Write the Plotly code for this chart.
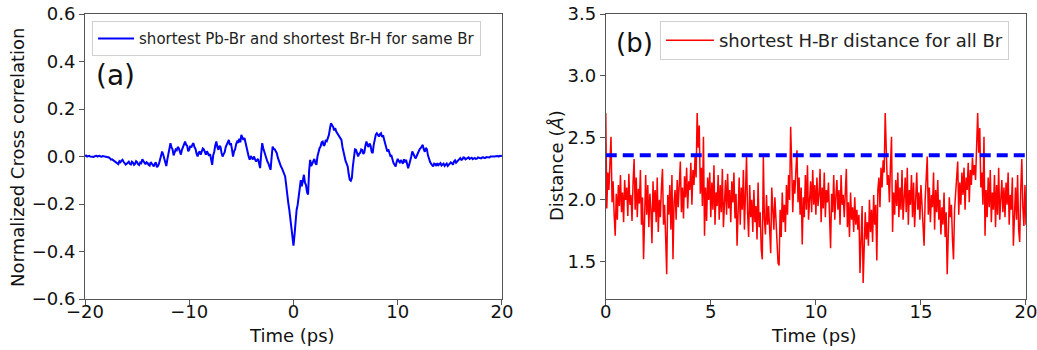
import plotly.graph_objects as go
from plotly.subplots import make_subplots

# ---------------- data ----------------
# (a) cross correlation, time grid -20..20 ps step 0.1
corr_t = [round(-20 + 0.1 * i, 1) for i in range(401)]
corr_vals = [
    0.002, 0.004, 0.000, 0.001, 0.003, 0.000, 0.001, -0.001, -0.002, 0.001, 0.002, 0.003, 0.000, 0.002, 0.003, 0.000, -0.001, 0.002, 0.001, -0.001,
    -0.002, -0.001, -0.005, -0.004, -0.008, -0.013, -0.012, -0.016, -0.018, -0.024, -0.025, -0.029, -0.032, -0.020, -0.024, -0.018, -0.014, -0.022, -0.028, -0.034,
    -0.030, -0.024, -0.022, -0.031, -0.034, -0.022, -0.026, -0.035, -0.031, -0.020, -0.024, -0.033, -0.036, -0.025, -0.028, -0.012, -0.019, -0.030, -0.033, -0.024,
    -0.027, -0.035, -0.038, -0.024, -0.030, -0.040, -0.042, -0.030, -0.025, -0.045, -0.040, -0.030, -0.014, 0.005, 0.021, 0.008, -0.005, -0.022, -0.040, -0.012,
    0.010, 0.040, 0.056, 0.038, 0.030, 0.005, 0.014, 0.030, 0.026, 0.040, 0.035, 0.015, 0.008, 0.028, 0.040, 0.052, 0.063, 0.050, 0.045, 0.022,
    0.028, 0.045, 0.038, 0.050, 0.056, 0.040, 0.032, 0.012, 0.000, 0.015, 0.022, 0.008, 0.020, 0.034, 0.030, 0.018, 0.008, 0.022, 0.014, 0.003,
    0.010, -0.015, -0.035, 0.005, 0.020, 0.048, 0.063, 0.040, 0.028, 0.045, 0.040, 0.015, 0.000, 0.010, 0.018, 0.040, 0.052, 0.064, 0.070, 0.048,
    0.056, 0.030, 0.000, 0.022, 0.030, 0.052, 0.063, 0.058, 0.075, 0.060, 0.091, 0.080, 0.070, 0.078, 0.056, 0.035, 0.020, 0.000, -0.014, 0.002,
    -0.005, -0.012, 0.000, -0.008, -0.021, -0.015, -0.010, -0.030, -0.049, 0.010, 0.056, 0.035, 0.020, 0.000, -0.014, -0.022, -0.030, -0.045, -0.056, -0.005,
    0.042, 0.032, 0.030, 0.022, 0.014, -0.005, -0.020, -0.035, -0.042, -0.050, -0.060, -0.075, -0.084, -0.120, -0.168, -0.195, -0.225, -0.262, -0.300, -0.345,
    -0.375, -0.330, -0.253, -0.225, -0.204, -0.160, -0.120, -0.100, -0.126, -0.090, -0.077, -0.110, -0.120, -0.150, -0.160, -0.060, -0.014, -0.040, -0.030, -0.015,
    -0.010, -0.028, -0.035, 0.000, 0.020, 0.035, 0.042, 0.060, 0.063, 0.045, 0.050, 0.070, 0.065, 0.080, 0.091, 0.118, 0.140, 0.132, 0.125, 0.110,
    0.120, 0.105, 0.098, 0.092, 0.085, 0.078, 0.070, 0.040, 0.014, 0.000, -0.020, -0.030, -0.042, -0.075, -0.098, -0.102, -0.091, -0.040, 0.010, 0.030,
    0.028, 0.010, 0.000, 0.012, 0.015, 0.030, 0.028, 0.010, 0.018, 0.045, 0.063, 0.048, 0.040, 0.055, 0.045, 0.020, 0.014, 0.050, 0.080, 0.092,
    0.098, 0.088, 0.084, 0.094, 0.098, 0.082, 0.090, 0.070, 0.056, 0.035, 0.021, 0.030, 0.010, 0.002, 0.003, -0.015, -0.028, -0.035, -0.042, -0.022,
    -0.010, -0.020, -0.025, -0.015, -0.021, -0.030, -0.012, -0.025, -0.014, -0.035, -0.049, -0.035, -0.020, 0.000, 0.021, 0.010, 0.005, -0.008, 0.000, 0.012,
    0.020, 0.030, 0.035, 0.045, 0.049, 0.030, 0.020, 0.036, 0.030, 0.005, -0.014, -0.022, -0.030, -0.036, -0.042, -0.030, -0.032, -0.040, -0.028, -0.036,
    -0.033, -0.028, -0.038, -0.034, -0.030, -0.040, -0.035, -0.030, -0.040, -0.036, -0.032, -0.025, -0.028, -0.034, -0.021, -0.016, -0.026, -0.020, -0.018, -0.010,
    -0.007, -0.014, -0.012, -0.004, -0.005, -0.012, -0.010, -0.006, -0.004, -0.010, -0.008, -0.005, -0.011, -0.008, -0.006, -0.010, -0.009, -0.004, -0.005, -0.007,
    -0.008, -0.004, -0.003, -0.006, -0.006, -0.002, -0.002, -0.005, -0.004, 0.000, 0.000, -0.002, -0.003, 0.000, 0.001, 0.003, 0.002, 0.000, 0.003, 0.002,
    0.004,
]

# (b) shortest H-Br distance, time grid 0..20 ps step 0.05
dist_t = [round(0.05 * i, 2) for i in range(401)]
dist_vals = [
    2.70, 1.93, 2.22, 2.08, 2.30, 2.51, 1.98, 2.15, 1.88, 1.71, 2.05, 1.84, 2.12, 1.95, 2.20, 1.90, 2.06, 1.82, 2.16, 2.00,
    2.10, 1.87, 2.21, 1.96, 2.04, 1.83, 2.14, 2.33, 1.92, 2.18, 1.86, 2.09, 1.97, 2.24, 1.80, 2.02, 1.52, 1.95, 2.20, 1.88,
    2.12, 1.78, 2.05, 1.92, 1.65, 2.15, 1.90, 2.08, 1.82, 2.18, 1.74, 2.00, 1.86, 2.10, 2.25, 1.80, 1.96, 1.70, 1.40, 2.04,
    1.88, 2.12, 1.76, 2.20, 1.52, 1.98, 2.08, 1.84, 2.16, 1.94, 2.22, 2.31, 1.90, 2.10, 1.85, 2.19, 2.02, 2.26, 1.93, 2.15,
    2.08, 2.30, 1.96, 2.24, 2.12, 2.35, 2.18, 2.70, 2.42, 2.60, 2.05, 2.26, 1.95, 2.51, 1.71, 2.10, 1.83, 2.18, 2.00, 2.22,
    1.86, 2.14, 1.92, 2.28, 1.80, 2.06, 1.95, 2.20, 1.84, 2.12, 1.90, 2.25, 1.78, 2.02, 2.16, 1.88, 2.21, 1.93, 2.08, 1.82,
    2.15, 1.98, 2.22, 1.85, 2.05, 1.63, 1.96, 2.18, 1.80, 2.10, 1.92, 2.24, 1.76, 2.06, 2.35, 1.90, 1.70, 2.12, 1.86, 2.00,
    1.74, 2.08, 1.82, 1.95, 1.68, 2.14, 1.78, 1.90, 1.60, 1.52, 2.35, 1.85, 1.72, 2.04, 1.80, 1.95, 1.66, 1.57, 2.10, 1.88,
    1.76, 2.02, 1.84, 1.62, 1.49, 1.47, 1.92, 1.70, 2.06, 1.82, 1.96, 1.74, 2.12, 1.88, 2.20, 2.00, 2.59, 2.28, 1.90, 2.16,
    2.05, 2.24, 2.40, 1.98, 2.18, 1.88, 2.10, 1.64, 2.02, 1.86, 2.20, 1.92, 2.28, 1.84, 2.06, 2.15, 1.90, 2.24, 1.96, 2.12,
    1.88, 2.18, 1.95, 2.04, 2.25, 1.82, 2.10, 1.93, 2.22, 1.86, 2.08, 1.98, 2.14, 1.75, 1.61, 2.05, 1.90, 2.20, 1.84, 2.02,
    2.16, 1.92, 2.08, 1.80, 2.20, 1.96, 2.04, 1.86, 2.12, 2.25, 1.78, 1.98, 1.70, 2.06, 1.84, 1.94, 1.74, 2.02, 1.80, 1.92,
    1.76, 1.88, 1.41, 1.72, 1.95, 1.33, 1.60, 1.90, 1.68, 1.82, 1.63, 2.00, 1.74, 1.92, 1.66, 2.04, 1.80, 1.96, 1.51, 2.08,
    2.18, 1.94, 2.26, 2.10, 2.32, 2.22, 2.70, 2.40, 2.12, 2.20, 1.98, 2.28, 2.51, 1.74, 2.06, 1.88, 2.16, 1.95, 2.22, 1.86,
    2.10, 1.92, 2.24, 1.84, 2.04, 2.18, 1.90, 2.26, 1.80, 2.08, 1.96, 2.20, 1.86, 2.14, 1.78, 2.02, 2.22, 1.92, 2.06, 1.84,
    2.12, 1.96, 1.75, 1.63, 2.00, 2.18, 2.35, 1.88, 2.10, 1.82, 2.04, 1.94, 2.22, 1.76, 2.08, 1.90, 2.16, 1.84, 2.00, 1.72,
    1.94, 1.80, 2.06, 1.70, 1.90, 1.40, 1.78, 2.02, 1.86, 1.96, 1.68, 1.52, 1.92, 2.08, 2.20, 2.31, 1.88, 2.14, 1.96, 2.22,
    2.04, 2.26, 1.92, 2.18, 2.08, 2.30, 1.98, 2.24, 2.12, 2.34, 2.20, 2.28, 2.16, 2.36, 2.70, 2.38, 2.58, 2.10, 2.22, 1.96,
    2.51, 1.71, 2.08, 1.86, 2.18, 1.94, 2.24, 1.82, 2.06, 1.92, 2.20, 1.78, 2.12, 1.88, 2.26, 1.84, 2.02, 2.16, 1.90, 2.10,
    1.86, 2.14, 1.96, 2.22, 1.80, 2.04, 1.92, 2.18, 1.63, 1.98, 2.10, 1.84, 2.20, 1.76, 1.66, 2.08, 2.33, 1.94, 1.79, 2.12,
    1.80,
]

threshold_x = [0, 20]
threshold_y = [2.36, 2.36]

label_a = "(a)"
label_b = "(b)"
name_a = "shortest Pb-Br and shortest Br-H for same Br"
name_b = "shortest H-Br distance for all Br"
xtitle = "Time (ps)"
ytitle_a = "Normalized Cross correlation"
ytitle_b = "Distance (<i>Å</i>)"

# ---------------- figure ----------------
FONT = "DejaVu Sans"
AXCOL = "#555555"
TXT = "#111111"

fig = make_subplots(rows=1, cols=2)

fig.add_trace(go.Scatter(x=corr_t, y=corr_vals, mode="lines", name=name_a,
                         line=dict(color="#0000ff", width=2), legend="legend"),
              row=1, col=1)
fig.add_trace(go.Scatter(x=dist_t, y=dist_vals, mode="lines", name=name_b,
                         line=dict(color="#ff0000", width=1.5), legend="legend2"),
              row=1, col=2)
fig.add_trace(go.Scatter(x=threshold_x, y=threshold_y, mode="lines", showlegend=False,
                         line=dict(color="#0000ff", width=4, dash="11px,6px")),
              row=1, col=2)

axis_common = dict(showgrid=False, zeroline=False, showline=True, linecolor=AXCOL,
                   linewidth=1, mirror=True, ticks="outside", ticklen=5,
                   tickcolor=AXCOL, automargin=False, ticklabeloverflow="allow",
                   tickfont=dict(family=FONT, size=18, color=TXT))

fig.update_xaxes(**axis_common, ticklabelstandoff=-9)
fig.update_yaxes(**axis_common)

fig.update_xaxes(domain=[0, 0.4431], range=[-20, 20], tickvals=[-20, -10, 0, 10, 20],
                 row=1, col=1)
fig.update_yaxes(range=[-0.6, 0.6], dtick=0.2, tickformat=".1f", row=1, col=1)
fig.update_xaxes(domain=[0.5534, 1.0], range=[0, 20], tickvals=[0, 5, 10, 15, 20],
                 row=1, col=2)
fig.update_yaxes(range=[1.2, 3.5], tickvals=[1.5, 2.0, 2.5, 3.0, 3.5], tickformat=".1f",
                 row=1, col=2)

title_font = dict(family=FONT, size=18, color=TXT)
fig.add_annotation(x=0.2205, y=-0.128, xref="paper", yref="paper", text=xtitle,
                   showarrow=False, font=title_font, xanchor="center", yanchor="middle")
fig.add_annotation(x=0.7747, y=-0.128, xref="paper", yref="paper", text=xtitle,
                   showarrow=False, font=title_font, xanchor="center", yanchor="middle")
fig.add_annotation(x=-0.0712, y=0.495, xref="paper", yref="paper", text=ytitle_a,
                   showarrow=False, font=title_font, textangle=-90,
                   xanchor="center", yanchor="middle")
fig.add_annotation(x=0.5005, y=0.47, xref="paper", yref="paper", text=ytitle_b,
                   showarrow=False, font=title_font, textangle=-90,
                   xanchor="center", yanchor="middle")

fig.add_annotation(x=-17.1, y=0.34, xref="x", yref="y", text=label_a, showarrow=False,
                   font=dict(family=FONT, size=28, color=TXT))
fig.add_annotation(x=1.35, y=3.27, xref="x2", yref="y2", text=label_b, showarrow=False,
                   font=dict(family=FONT, size=26, color=TXT))

fig.update_layout(
    width=1037, height=350,
    margin=dict(l=85, r=11, t=14, b=51),
    paper_bgcolor="white", plot_bgcolor="white",
    font=dict(family=FONT, color=TXT),
    legend=dict(x=0.0075, y=0.975, xanchor="left", yanchor="top",
                bgcolor="rgba(255,255,255,0.85)", bordercolor="#d0d0d0", borderwidth=1,
                font=dict(family=FONT, size=15, color="#222"), itemwidth=36,
                tracegroupgap=0),
    legend2=dict(x=0.611, y=0.975, xanchor="left", yanchor="top",
                 bgcolor="rgba(255,255,255,0.85)", bordercolor="#d0d0d0", borderwidth=1,
                 font=dict(family=FONT, size=18, color="#222"), itemwidth=48,
                 tracegroupgap=0),
)

fig.write_html("out.html", config={"displayModeBar": False},
               post_script="document.body.style.margin='0';document.body.style.overflow='hidden';")
